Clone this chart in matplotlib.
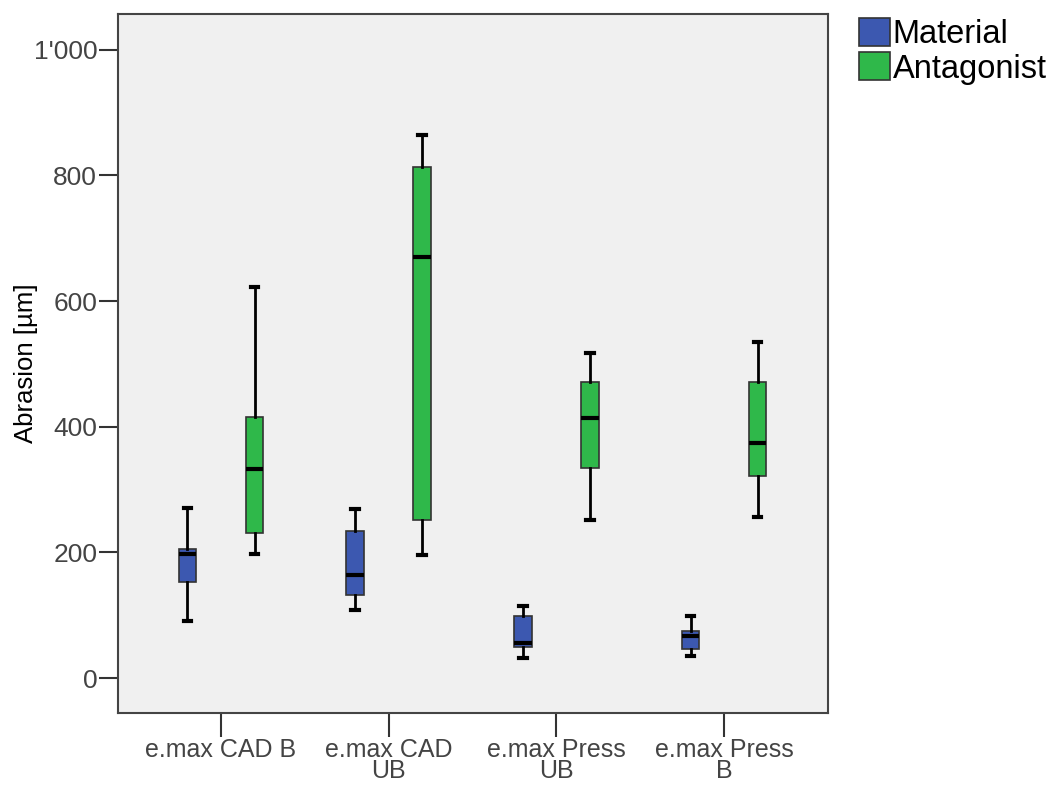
import numpy as np
import matplotlib.pyplot as plt
from matplotlib.patches import Patch

plt.rcParams['font.family'] = ['Liberation Sans', 'DejaVu Sans']

# groups on the x axis
categories = ["e.max CAD B", "e.max CAD\nUB", "e.max Press\nUB", "e.max Press\nB"]

# box stats: lower whisker, Q1, median, Q3, upper whisker
material_low = [91, 108, 32, 35]
material_q1 = [153, 132, 50, 46]
material_med = [197, 164, 56, 67]
material_q3 = [205, 234, 98, 75]
material_high = [271, 269, 115, 99]

antagonist_low = [198, 196, 252, 256]
antagonist_q1 = [231, 252, 335, 322]
antagonist_med = [333, 670, 414, 374]
antagonist_q3 = [416, 813, 471, 471]
antagonist_high = [623, 865, 517, 535]

series_names = ["Material", "Antagonist"]
colors = ["#3c58b0", "#2fb84a"]


def make_stats(low, q1, med, q3, high):
    stats = []
    for i in range(len(low)):
        stats.append({"whislo": low[i], "q1": q1[i], "med": med[i],
                      "q3": q3[i], "whishi": high[i], "fliers": []})
    return stats


fig = plt.figure(figsize=(10.53, 7.85), dpi=100)
ax = fig.add_axes([0.1121, 0.0917, 0.6743, 0.8905])
ax.set_facecolor("#f0f0f0")

x = np.arange(len(categories))
offset = 0.2
all_stats = [make_stats(material_low, material_q1, material_med, material_q3, material_high),
             make_stats(antagonist_low, antagonist_q1, antagonist_med, antagonist_q3, antagonist_high)]

for k, stats in enumerate(all_stats):
    pos = x + (-offset if k == 0 else offset)
    ax.bxp(stats, positions=pos, widths=0.105, patch_artist=True, showfliers=False,
           boxprops=dict(facecolor=colors[k], edgecolor="#333333", linewidth=1.2),
           medianprops=dict(color="black", linewidth=3),
           whiskerprops=dict(color="black", linewidth=2),
           capprops=dict(color="black", linewidth=3),
           capwidths=0.045, manage_ticks=False)

ax.set_xlim(-0.614, 3.62)
ax.set_ylim(-55.7, 1057)
ax.set_xticks(x)
ax.set_xticklabels(categories, fontsize=18, color="#444444", linespacing=0.86)
ax.set_yticks([0, 200, 400, 600, 800, 1000])
ax.set_yticklabels(["0", "200", "400", "600", "800", "1'000"], fontsize=19, color="#444444")
ax.tick_params(axis="x", length=17, width=1.5, color="#333333", pad=1)
ax.tick_params(axis="y", length=14, width=1.5, color="#333333", pad=1)
for s in ax.spines.values():
    s.set_color("#444444")
    s.set_linewidth(1.5)
ax.set_ylabel("Abrasion [µm]", fontsize=18.5, labelpad=-3)

handles = [Patch(facecolor=colors[i], edgecolor="#333333", linewidth=1.2) for i in range(2)]
fig.legend(handles, series_names, loc="upper left", bbox_to_anchor=(0.816, 0.977),
           frameon=False, fontsize=23.5, handlelength=0.95, handleheight=0.95,
           handletextpad=0.08, labelspacing=0.06, borderpad=0, borderaxespad=0)

fig.savefig("out.png", dpi=100)
